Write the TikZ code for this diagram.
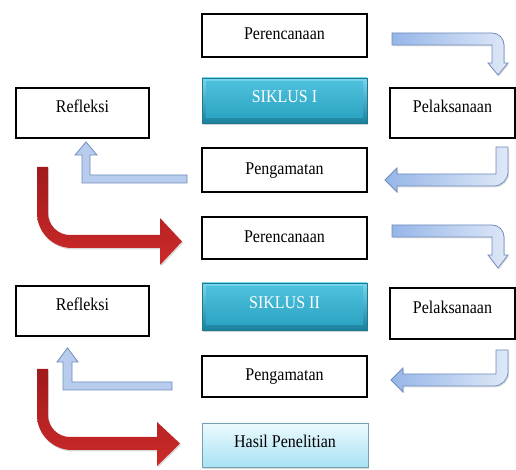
\documentclass[tikz,border=0pt]{standalone}
\usepackage{fontspec}
\usepackage{graphicx}
\setmainfont{Liberation Serif}
\newfontfamily\tnr{Liberation Serif}
\usetikzlibrary{shadows}
\definecolor{redTop}{RGB}{160,26,28}
\definecolor{redBot}{RGB}{205,42,42}
\definecolor{blueA}{RGB}{150,182,232}
\definecolor{blueB}{RGB}{222,232,247}
\definecolor{blueUp}{RGB}{184,205,238}
\definecolor{blueLine}{RGB}{112,140,188}
\definecolor{tealA}{RGB}{120,215,236}
\definecolor{tealB}{RGB}{26,128,156}
\definecolor{tealInA}{RGB}{80,195,222}
\definecolor{tealInB}{RGB}{40,160,192}
\definecolor{tealLine}{RGB}{30,120,148}
\definecolor{hasA}{RGB}{236,250,254}
\definecolor{hasB}{RGB}{168,226,244}
\definecolor{hasLine}{RGB}{120,160,176}
\newcommand{\T}[1]{\scalebox{1}[1.12]{#1}}
\begin{document}
\begin{tikzpicture}[x=1pt,y=1pt,font=\tnr\fontsize{16}{18}\selectfont,
  box/.style={draw=black, line width=1.8pt, fill=white, inner sep=0pt, text height=12pt, text depth=3pt},
  sidebox/.style={box, text height=8pt, text depth=8pt},
  siklus/.style={draw=tealLine, line width=0.6pt, top color=tealA, bottom color=tealB, inner sep=0pt,
    text=white, text height=10pt, text depth=5pt,
    drop shadow={opacity=0.35, shadow xshift=1pt, shadow yshift=-2pt},
    path picture={\shade[top color=tealInA, bottom color=tealInB]
      ([shift={(4pt,-4pt)}]path picture bounding box.north west) rectangle
      ([shift={(-4pt,5pt)}]path picture bounding box.south east);}},
  hasil/.style={draw=hasLine, line width=0.8pt, top color=hasA, bottom color=hasB, inner sep=0pt,
    text height=10pt, text depth=4pt,
    drop shadow={opacity=0.3, shadow xshift=1pt, shadow yshift=-2pt}},
  bluearrow/.style={draw=blueLine, line width=0.8pt, left color=blueA, right color=blueB},
  blueup/.style={draw=blueLine, line width=0.8pt, fill=blueUp},
  redarrow/.style={top color=redTop, bottom color=redBot}]
\useasboundingbox (0,0) rectangle (516,470);
\fill[white] (0,0) rectangle (516,470);

% boxes
\node[box, minimum width=165pt, minimum height=43pt] (per1) at (284.5,434.5) {\T{Perencanaan}};
\node[siklus, minimum width=165pt, minimum height=45pt] (sik1) at (284.5,369.5) {\T{SIKLUS I}};
\node[box, minimum width=165pt, minimum height=44pt] (pen1) at (284.5,300) {\T{Pengamatan}};
\node[box, minimum width=165pt, minimum height=42pt] (per2) at (284.5,232) {\T{Perencanaan}};
\node[siklus, minimum width=165pt, minimum height=47pt] (sik2) at (284.5,163.5) {\T{SIKLUS II}};
\node[box, minimum width=165pt, minimum height=41pt] (pen2) at (284.5,93.5) {\T{Pengamatan}};
\node[hasil, minimum width=166pt, minimum height=44pt] (has) at (285,25) {\T{Hasil Penelitian}};
\node[sidebox, minimum width=133pt, minimum height=50pt] (ref1) at (82.5,357) {\T{Refleksi}};
\node[sidebox, minimum width=133pt, minimum height=50pt] (ref2) at (82.5,159) {\T{Refleksi}};
\node[sidebox, minimum width=125pt, minimum height=50pt] (pel1) at (452.5,357) {\T{Pelaksanaan}};
\node[sidebox, minimum width=125pt, minimum height=51pt] (pel2) at (452.5,156.5) {\T{Pelaksanaan}};

% soft shadows of the arrows
\begin{scope}[shift={(1pt,-1.5pt)}, fill=black, opacity=0.12]
\fill (392,437) -- (492,437) .. controls (498.6,437) and (504,431.6) .. (504,425)
  -- (504,407) -- (508,407) -- (498,395) -- (488,407) -- (492,407) -- (492,425) -- (392,425) -- cycle;
\fill (496,323) -- (508,323) -- (508,298) .. controls (508,290.3) and (501.7,284) .. (494,284)
  -- (397,284) -- (397,278) -- (385,290) -- (397,302) -- (397,296) -- (496,296) -- cycle;
\fill (392,245) -- (492,245) .. controls (498.6,245) and (504,239.6) .. (504,233)
  -- (504,215) -- (508,215) -- (498,202) -- (488,215) -- (492,215) -- (492,233) -- (392,233) -- cycle;
\fill (496,120) -- (508,120) -- (508,98) .. controls (508,90.3) and (501.7,84) .. (494,84)
  -- (403,84) -- (403,78) -- (391,90) -- (403,102) -- (403,96) -- (496,96) -- cycle;
\fill[opacity=0.15] (37,303) -- (48,303) -- (48,257) .. controls (48,244.9) and (57.9,235) .. (70,235)
  -- (160,235) -- (160,252) -- (182,228.5) -- (160,205) -- (160,222) -- (72,222)
  .. controls (52.7,222) and (37,237.7) .. (37,257) -- cycle;
\fill[opacity=0.15] (37,101) -- (48,101) -- (48,55) .. controls (48,42.9) and (57.9,33) .. (70,33)
  -- (157,33) -- (157,48) -- (180,26.5) -- (157,4) -- (157,20) -- (72,20)
  .. controls (52.7,20) and (37,35.7) .. (37,55) -- cycle;
\end{scope}

% blue arrows, right side
\shadedraw[bluearrow] (392,437) -- (492,437) .. controls (498.6,437) and (504,431.6) .. (504,425)
  -- (504,407) -- (508,407) -- (498,395) -- (488,407) -- (492,407) -- (492,425) -- (392,425) -- cycle;
\shadedraw[bluearrow] (496,323) -- (508,323) -- (508,298) .. controls (508,290.3) and (501.7,284) .. (494,284)
  -- (397,284) -- (397,278) -- (385,290) -- (397,302) -- (397,296) -- (496,296) -- cycle;
\shadedraw[bluearrow] (392,245) -- (492,245) .. controls (498.6,245) and (504,239.6) .. (504,233)
  -- (504,215) -- (508,215) -- (498,202) -- (488,215) -- (492,215) -- (492,233) -- (392,233) -- cycle;
\shadedraw[bluearrow] (496,120) -- (508,120) -- (508,98) .. controls (508,90.3) and (501.7,84) .. (494,84)
  -- (403,84) -- (403,78) -- (391,90) -- (403,102) -- (403,96) -- (496,96) -- cycle;

% blue arrows, left side
\filldraw[blueup] (187,295) -- (90,295) -- (90,315) -- (97,315) -- (86,328) -- (75,315) -- (82,315)
  -- (82,287) -- (187,287) -- cycle;
\filldraw[blueup] (172,88) -- (72,88) -- (72,108) -- (78,108) -- (67.5,122) -- (57,108) -- (63,108)
  -- (63,80) -- (172,80) -- cycle;

% red arrows
\shade[redarrow] (37,303) -- (48,303) -- (48,257) .. controls (48,244.9) and (57.9,235) .. (70,235)
  -- (160,235) -- (160,252) -- (182,228.5) -- (160,205) -- (160,222) -- (72,222)
  .. controls (52.7,222) and (37,237.7) .. (37,257) -- cycle;
\shade[redarrow] (37,101) -- (48,101) -- (48,55) .. controls (48,42.9) and (57.9,33) .. (70,33)
  -- (157,33) -- (157,48) -- (180,26.5) -- (157,4) -- (157,20) -- (72,20)
  .. controls (52.7,20) and (37,35.7) .. (37,55) -- cycle;
\end{tikzpicture}
\end{document}
